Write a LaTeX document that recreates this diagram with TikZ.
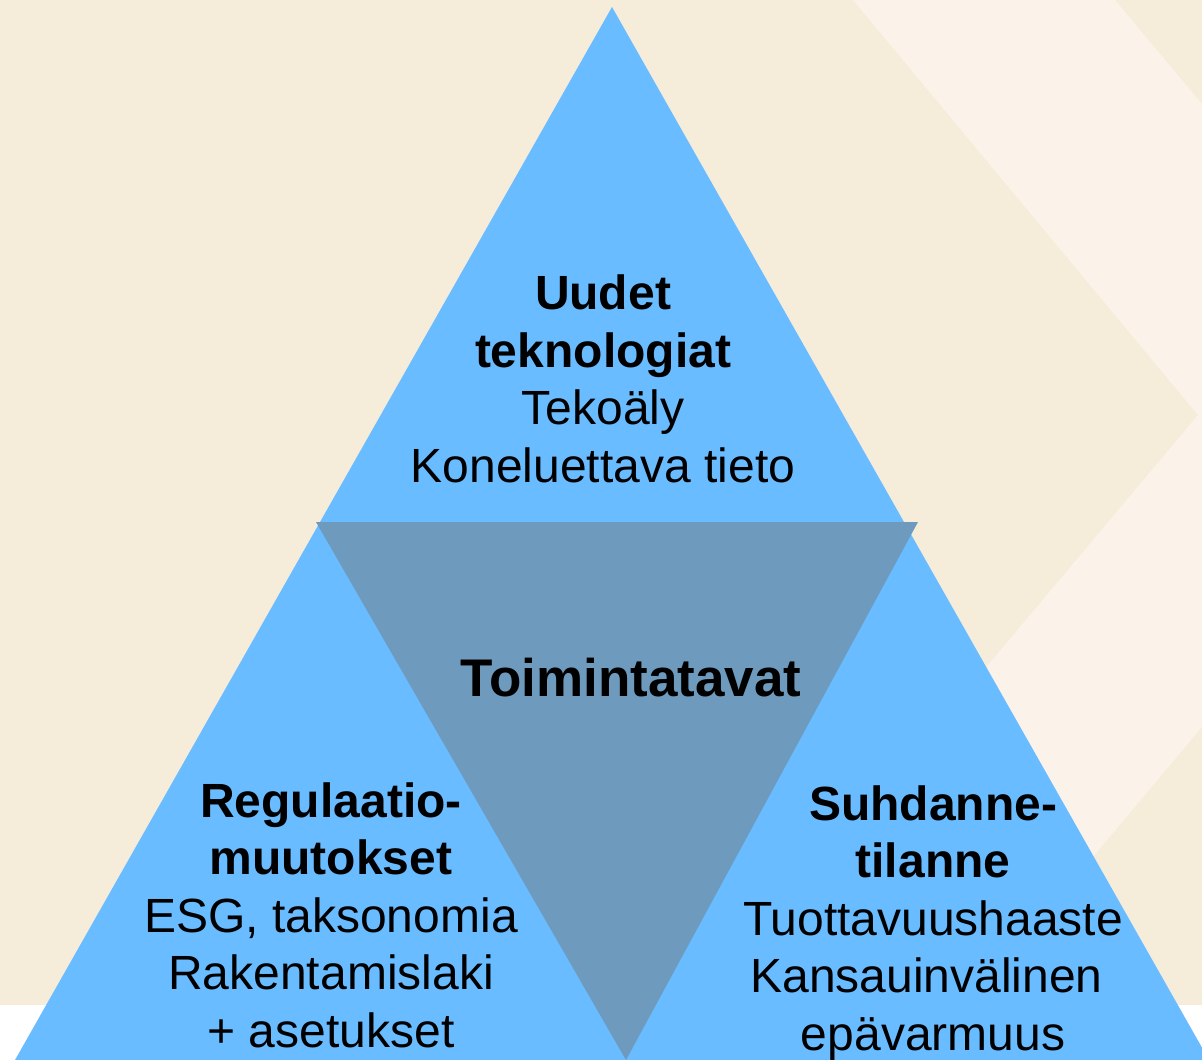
\documentclass[tikz,border=0pt]{standalone}
\usepackage{fontspec}
\setmainfont{Liberation Sans}
\definecolor{bgbeige}{HTML}{F6ECDA}
\definecolor{bglight}{HTML}{FBF3E9}
\definecolor{triblue}{HTML}{69BCFF}
\definecolor{tridark}{HTML}{6E9BBD}
\begin{document}
\begin{tikzpicture}[x=1pt,y=-1pt,
  lbl/.style={align=center,inner sep=0pt,text=black,font=\fontsize{48}{57.5}\selectfont},
  centrelbl/.style={inner sep=0pt,text=black,font=\fontsize{53}{60}\selectfont\bfseries}]
\useasboundingbox (0,0) rectangle (1202,1060);
% background
\fill[bgbeige] (0,0) rectangle (1202,1060);
\fill[white] (0,1005) rectangle (1202,1060);
\fill[bglight] (853,0) -- (1115,0) -- (1202,104) -- (1202,727) -- (1034,927) -- (946,715) -- (1198,415) -- cycle;
% triangles
\fill[triblue] (612,7) -- (1209,1060) -- (15,1060) -- cycle;
\fill[tridark] (316,522) -- (918,522) -- (626,1060) -- cycle;
% labels
\node[lbl] (tech) at (603,379) {\textbf{Uudet}\\\textbf{teknologiat}\\Tekoäly\\Koneluettava tieto};
\node[lbl] (reg) at (331,915) {\textbf{Regulaatio-}\\\textbf{muutokset}\\ESG, taksonomia\\Rakentamislaki\\+ asetukset};
\node[lbl] (econ) at (933,923) {\textbf{Suhdanne-}\\\textbf{tilanne}\\Tuottavuushaaste\\Kansauinvälinen\hspace*{13pt}\mbox{}\\epävarmuus};
\node[centrelbl] (core) at (631,678) {Toimintatavat};
\end{tikzpicture}
\end{document}
